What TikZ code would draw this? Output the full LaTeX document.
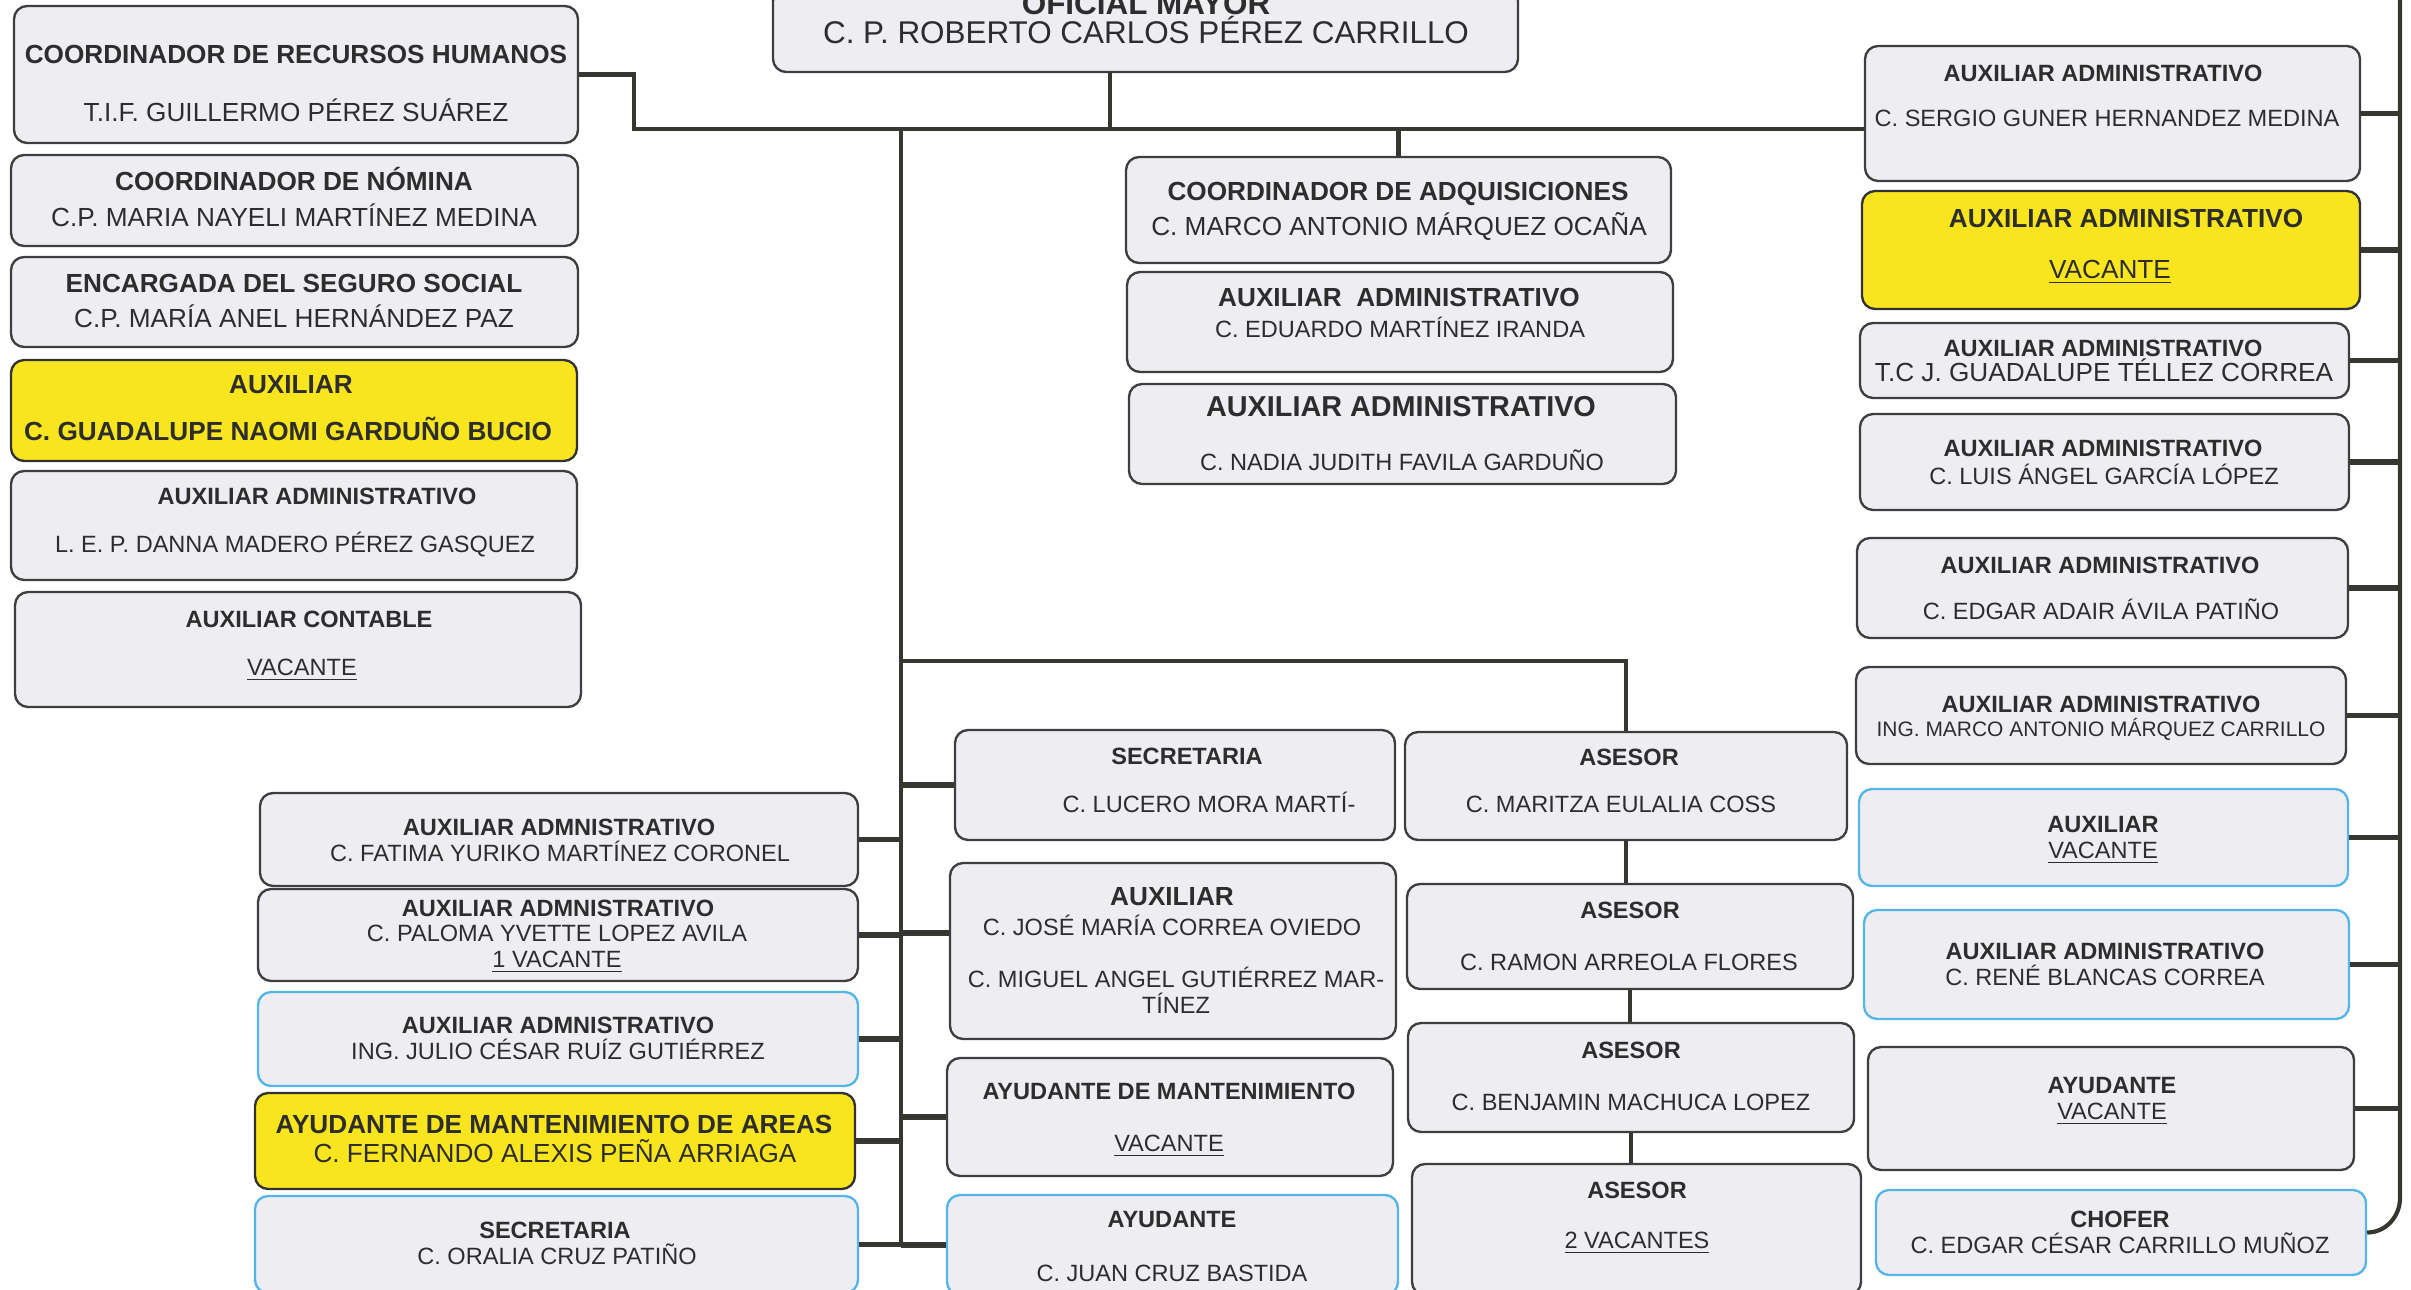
\documentclass[tikz,border=0pt]{standalone}
\usepackage{fontspec}
\setmainfont{Liberation Sans}
\usepackage{tikz}
\usetikzlibrary{fit}
\definecolor{caja}{RGB}{238,238,242}
\definecolor{borde}{RGB}{62,62,62}
\definecolor{celeste}{RGB}{84,182,230}
\definecolor{amarillo}{RGB}{249,229,30}
\definecolor{tinta}{RGB}{45,45,45}
\definecolor{trazo}{RGB}{55,55,50}

\begin{document}
\begin{tikzpicture}[x=0.01343cm,y=-0.01343cm]
    \tikzstyle{cargo}=[draw=borde,fill=caja,line width=0.9pt,rounded corners=5pt,inner sep=0pt]
    \tikzstyle{azul}=[cargo,draw=celeste]
    \tikzstyle{amarilla}=[cargo,fill=amarillo,draw=borde!80!black]
    \tikzstyle{tit}=[anchor=mid,inner sep=0pt,yshift=-0.04cm,text=tinta,font=\small\bfseries]
    \tikzstyle{nom}=[anchor=mid,inner sep=0pt,yshift=-0.04cm,text=tinta,font=\small]
    \tikzstyle{linea}=[draw=trazo,line width=1.6pt]
    \tikzstyle{espina}=[draw=trazo,line width=1.2pt]
    \tikzstyle{rama}=[draw=trazo,line width=2.2pt]
    \useasboundingbox (0,0) rectangle (2411,1290);

    % oficial mayor
    \node[cargo,fit={(773,-12) (1518,72)}] (jefe) {};
    \node[tit,font=\large\bfseries] (jefe-t) at (1146,5) {OFICIAL MAYOR};
    \node[nom,font=\large] (jefe-n) at (1146,34) {C. P. ROBERTO CARLOS PÉREZ CARRILLO};

    % columna izquierda
    \node[cargo,fit={(14,6) (578,143)}] (rh) {};
    \node[tit,font=\normalsize\bfseries] (rh-t) at (296,54) {COORDINADOR DE RECURSOS HUMANOS};
    \node[nom,font=\normalsize] (rh-n) at (296,112) {T.I.F. GUILLERMO PÉREZ SUÁREZ};
    \node[cargo,fit={(11,155) (578,246)}] (nomina) {};
    \node[tit,font=\normalsize\bfseries] (nomina-t) at (294,181) {COORDINADOR DE NÓMINA};
    \node[nom,font=\normalsize] (nomina-n) at (294,217) {C.P. MARIA NAYELI MARTÍNEZ MEDINA};
    \node[cargo,fit={(11,257) (578,347)}] (seguro) {};
    \node[tit,font=\normalsize\bfseries] (seguro-t) at (294,283) {ENCARGADA DEL SEGURO SOCIAL};
    \node[nom,font=\normalsize] (seguro-n) at (294,318) {C.P. MARÍA ANEL HERNÁNDEZ PAZ};
    \node[amarilla,fit={(11,360) (577,461)}] (auxiliar) {};
    \node[tit,font=\normalsize\bfseries] (auxiliar-t) at (291,384) {AUXILIAR};
    \node[tit,font=\normalsize\bfseries] (auxiliar-n) at (288,431) {C. GUADALUPE NAOMI GARDUÑO BUCIO};
    \node[cargo,fit={(11,471) (577,580)}] (danna) {};
    \node[tit] (danna-t) at (317,495) {AUXILIAR ADMINISTRATIVO};
    \node[nom] (danna-n) at (295,543) {L. E. P. DANNA MADERO PÉREZ GASQUEZ};
    \node[cargo,fit={(15,592) (581,707)}] (contable) {};
    \node[tit] (contable-t) at (309,618) {AUXILIAR CONTABLE};
    \node[nom] (contable-n) at (302,666) {\underline{VACANTE}};

    % adquisiciones
    \node[cargo,fit={(1126,157) (1671,263)}] (adq) {};
    \node[tit,font=\normalsize\bfseries] (adq-t) at (1398,191) {COORDINADOR DE ADQUISICIONES};
    \node[nom,font=\normalsize] (adq-n) at (1399,226) {C. MARCO ANTONIO MÁRQUEZ OCAÑA};
    \node[cargo,fit={(1127,272) (1673,372)}] (eduardo) {};
    \node[tit,font=\normalsize\bfseries] (eduardo-t) at (1399,297) {AUXILIAR\ \ ADMINISTRATIVO};
    \node[nom] (eduardo-n) at (1400,328) {C. EDUARDO MARTÍNEZ IRANDA};
    \node[cargo,fit={(1129,384) (1676,484)}] (nadia) {};
    \node[tit,font=\fontsize{11}{13}\selectfont\bfseries] (nadia-t) at (1401,407) {AUXILIAR ADMINISTRATIVO};
    \node[nom] (nadia-n) at (1402,461) {C. NADIA JUDITH FAVILA GARDUÑO};

    % columna derecha
    \node[cargo,fit={(1865,46) (2360,181)}] (sergio) {};
    \node[tit] (sergio-t) at (2103,72) {AUXILIAR ADMINISTRATIVO};
    \node[nom] (sergio-n) at (2107,117) {C. SERGIO GUNER HERNANDEZ MEDINA};
    \node[amarilla,fit={(1862,191) (2360,309)}] (vacy) {};
    \node[tit,font=\normalsize\bfseries] (vacy-t) at (2126,218) {AUXILIAR ADMINISTRATIVO};
    \node[nom,font=\normalsize] (vacy-n) at (2110,269) {\underline{VACANTE}};
    \node[cargo,fit={(1860,323) (2349,398)}] (tellez) {};
    \node[tit] (tellez-t) at (2103,347) {AUXILIAR ADMINISTRATIVO};
    \node[nom,font=\normalsize] (tellez-n) at (2104,372) {T.C J. GUADALUPE TÉLLEZ CORREA};
    \node[cargo,fit={(1860,414) (2349,510)}] (luis) {};
    \node[tit] (luis-t) at (2103,447) {AUXILIAR ADMINISTRATIVO};
    \node[nom] (luis-n) at (2104,475) {C. LUIS ÁNGEL GARCÍA LÓPEZ};
    \node[cargo,fit={(1857,538) (2348,638)}] (edgara) {};
    \node[tit] (edgara-t) at (2100,564) {AUXILIAR ADMINISTRATIVO};
    \node[nom] (edgara-n) at (2101,610) {C. EDGAR ADAIR ÁVILA PATIÑO};
    \node[cargo,fit={(1856,667) (2346,764)}] (marco) {};
    \node[tit] (marco-t) at (2101,703) {AUXILIAR ADMINISTRATIVO};
    \node[nom,font=\footnotesize] (marco-n) at (2101,727) {ING. MARCO ANTONIO MÁRQUEZ CARRILLO};
    \node[azul,fit={(1859,789) (2348,886)}] (auxvac) {};
    \node[tit] (auxvac-t) at (2103,823) {AUXILIAR};
    \node[nom] (auxvac-n) at (2103,849) {\underline{VACANTE}};
    \node[azul,fit={(1864,910) (2349,1019)}] (rene) {};
    \node[tit] (rene-t) at (2105,950) {AUXILIAR ADMINISTRATIVO};
    \node[nom] (rene-n) at (2105,976) {C. RENÉ BLANCAS CORREA};
    \node[cargo,fit={(1868,1047) (2354,1170)}] (ayud) {};
    \node[tit] (ayud-t) at (2112,1084) {AYUDANTE};
    \node[nom] (ayud-n) at (2112,1110) {\underline{VACANTE}};
    \node[azul,fit={(1876,1190) (2366,1275)}] (chofer) {};
    \node[tit] (chofer-t) at (2120,1218) {CHOFER};
    \node[nom] (chofer-n) at (2120,1244) {C. EDGAR CÉSAR CARRILLO MUÑOZ};

    % columna inferior izquierda
    \node[cargo,fit={(260,793) (858,886)}] (fatima) {};
    \node[tit] (fatima-t) at (559,826) {AUXILIAR ADMNISTRATIVO};
    \node[nom] (fatima-n) at (560,852) {C. FATIMA YURIKO MARTÍNEZ CORONEL};
    \node[cargo,fit={(258,889) (858,981)}] (paloma) {};
    \node[tit] (paloma-t) at (558,907) {AUXILIAR ADMNISTRATIVO};
    \node[nom] (paloma-n) at (557,932) {C. PALOMA YVETTE LOPEZ AVILA};
    \node[nom] (paloma-v) at (557,958) {\underline{1 VACANTE}};
    \node[azul,fit={(258,992) (858,1086)}] (julio) {};
    \node[tit] (julio-t) at (558,1024) {AUXILIAR ADMNISTRATIVO};
    \node[nom] (julio-n) at (558,1050) {ING. JULIO CÉSAR RUÍZ GUTIÉRREZ};
    \node[amarilla,fit={(255,1093) (855,1189)}] (areas) {};
    \node[tit,font=\normalsize\bfseries] (areas-t) at (554,1124) {AYUDANTE DE MANTENIMIENTO DE AREAS};
    \node[nom,font=\normalsize] (areas-n) at (555,1153) {C. FERNANDO ALEXIS PEÑA ARRIAGA};
    \node[azul,fit={(255,1196) (858,1293)}] (oralia) {};
    \node[tit] (oralia-t) at (555,1229) {SECRETARIA};
    \node[nom] (oralia-n) at (557,1255) {C. ORALIA CRUZ PATIÑO};

    % columna central
    \node[cargo,fit={(955,730) (1395,840)}] (lucero) {};
    \node[tit] (lucero-t) at (1187,755) {SECRETARIA};
    \node[nom] (lucero-n) at (1209,803) {C. LUCERO MORA MARTÍ-};
    \node[cargo,fit={(950,863) (1396,1039)}] (jose) {};
    \node[tit,font=\normalsize\bfseries] (jose-t) at (1172,896) {AUXILIAR};
    \node[nom] (jose-n) at (1172,926) {C. JOSÉ MARÍA CORREA OVIEDO};
    \node[nom] (miguel-n) at (1176,978) {C. MIGUEL ANGEL GUTIÉRREZ MAR-};
    \node[nom] (miguel-m) at (1176,1004) {TÍNEZ};
    \node[cargo,fit={(947,1058) (1393,1176)}] (ayudm) {};
    \node[tit] (ayudm-t) at (1169,1090) {AYUDANTE DE MANTENIMIENTO};
    \node[nom] (ayudm-n) at (1169,1142) {\underline{VACANTE}};
    \node[azul,fit={(947,1195) (1398,1295)}] (juan) {};
    \node[tit] (juan-t) at (1172,1218) {AYUDANTE};
    \node[nom] (juan-n) at (1172,1272) {C. JUAN CRUZ BASTIDA};

    % asesores
    \node[cargo,fit={(1405,732) (1847,840)}] (as1) {};
    \node[tit] (as1-t) at (1629,756) {ASESOR};
    \node[nom] (as1-n) at (1621,803) {C. MARITZA EULALIA COSS};
    \node[cargo,fit={(1407,884) (1853,989)}] (as2) {};
    \node[tit] (as2-t) at (1630,909) {ASESOR};
    \node[nom] (as2-n) at (1629,961) {C. RAMON ARREOLA FLORES};
    \node[cargo,fit={(1408,1023) (1854,1132)}] (as3) {};
    \node[tit] (as3-t) at (1631,1049) {ASESOR};
    \node[nom] (as3-n) at (1631,1101) {C. BENJAMIN MACHUCA LOPEZ};
    \node[cargo,fit={(1412,1164) (1861,1295)}] (as4) {};
    \node[tit] (as4-t) at (1637,1189) {ASESOR};
    \node[nom] (as4-n) at (1637,1239) {\underline{2 VACANTES}};

    % lineas
    \coordinate (cruce) at (634,129);
    \coordinate (tronco) at (901,129);
    \coordinate (pie) at (901,1242);
    \coordinate (desvio) at (901,661);
    \coordinate (der) at (2400,-10);
    \coordinate (curva) at (2400,1198);

    \draw[linea] (rh.east) -| (cruce) -- (cruce -| sergio.west);
    \draw[linea] (1110,0 |- jefe.south) -- (1110,0 |- cruce);
    \draw[linea] (adq.north) -- (adq.north |- cruce);
    \draw[espina] (tronco) -- (pie);
    \draw[linea] (desvio) -| (as1.north);
    \draw[linea] (as1.south) -- (as1.south |- as2.north);
    \draw[linea] (as2.south) -- (as2.south |- as3.north);
    \draw[linea] (as3.south) -- (as3.south |- as4.north);
    \draw[linea] (der) -- (curva) to[out=-90,in=0] (chofer.east);

    \draw[rama] (fatima.east) -- (fatima.east -| tronco);
    \draw[rama] (paloma.east) -- (paloma.east -| tronco);
    \draw[rama] (julio.east) -- (julio.east -| tronco);
    \draw[rama] (areas.east) -- (areas.east -| tronco);
    \draw[rama] (oralia.east) -- (oralia.east -| tronco);
    \draw[rama] (lucero.west) -- (lucero.west -| tronco);
    \draw[rama] (jose.west |- 0,933) -- (tronco |- 0,933);
    \draw[rama] (ayudm.west) -- (ayudm.west -| tronco);
    \draw[rama] (juan.west) -- (juan.west -| tronco);

    \draw[rama] (sergio.east) -- (sergio.east -| der);
    \draw[rama] (vacy.east) -- (vacy.east -| der);
    \draw[rama] (tellez.east) -- (tellez.east -| der);
    \draw[rama] (luis.east) -- (luis.east -| der);
    \draw[rama] (edgara.east) -- (edgara.east -| der);
    \draw[rama] (marco.east) -- (marco.east -| der);
    \draw[rama] (auxvac.east) -- (auxvac.east -| der);
    \draw[rama] (rene.east) -- (rene.east -| der);
    \draw[rama] (ayud.east) -- (ayud.east -| der);
\end{tikzpicture}
\end{document}
